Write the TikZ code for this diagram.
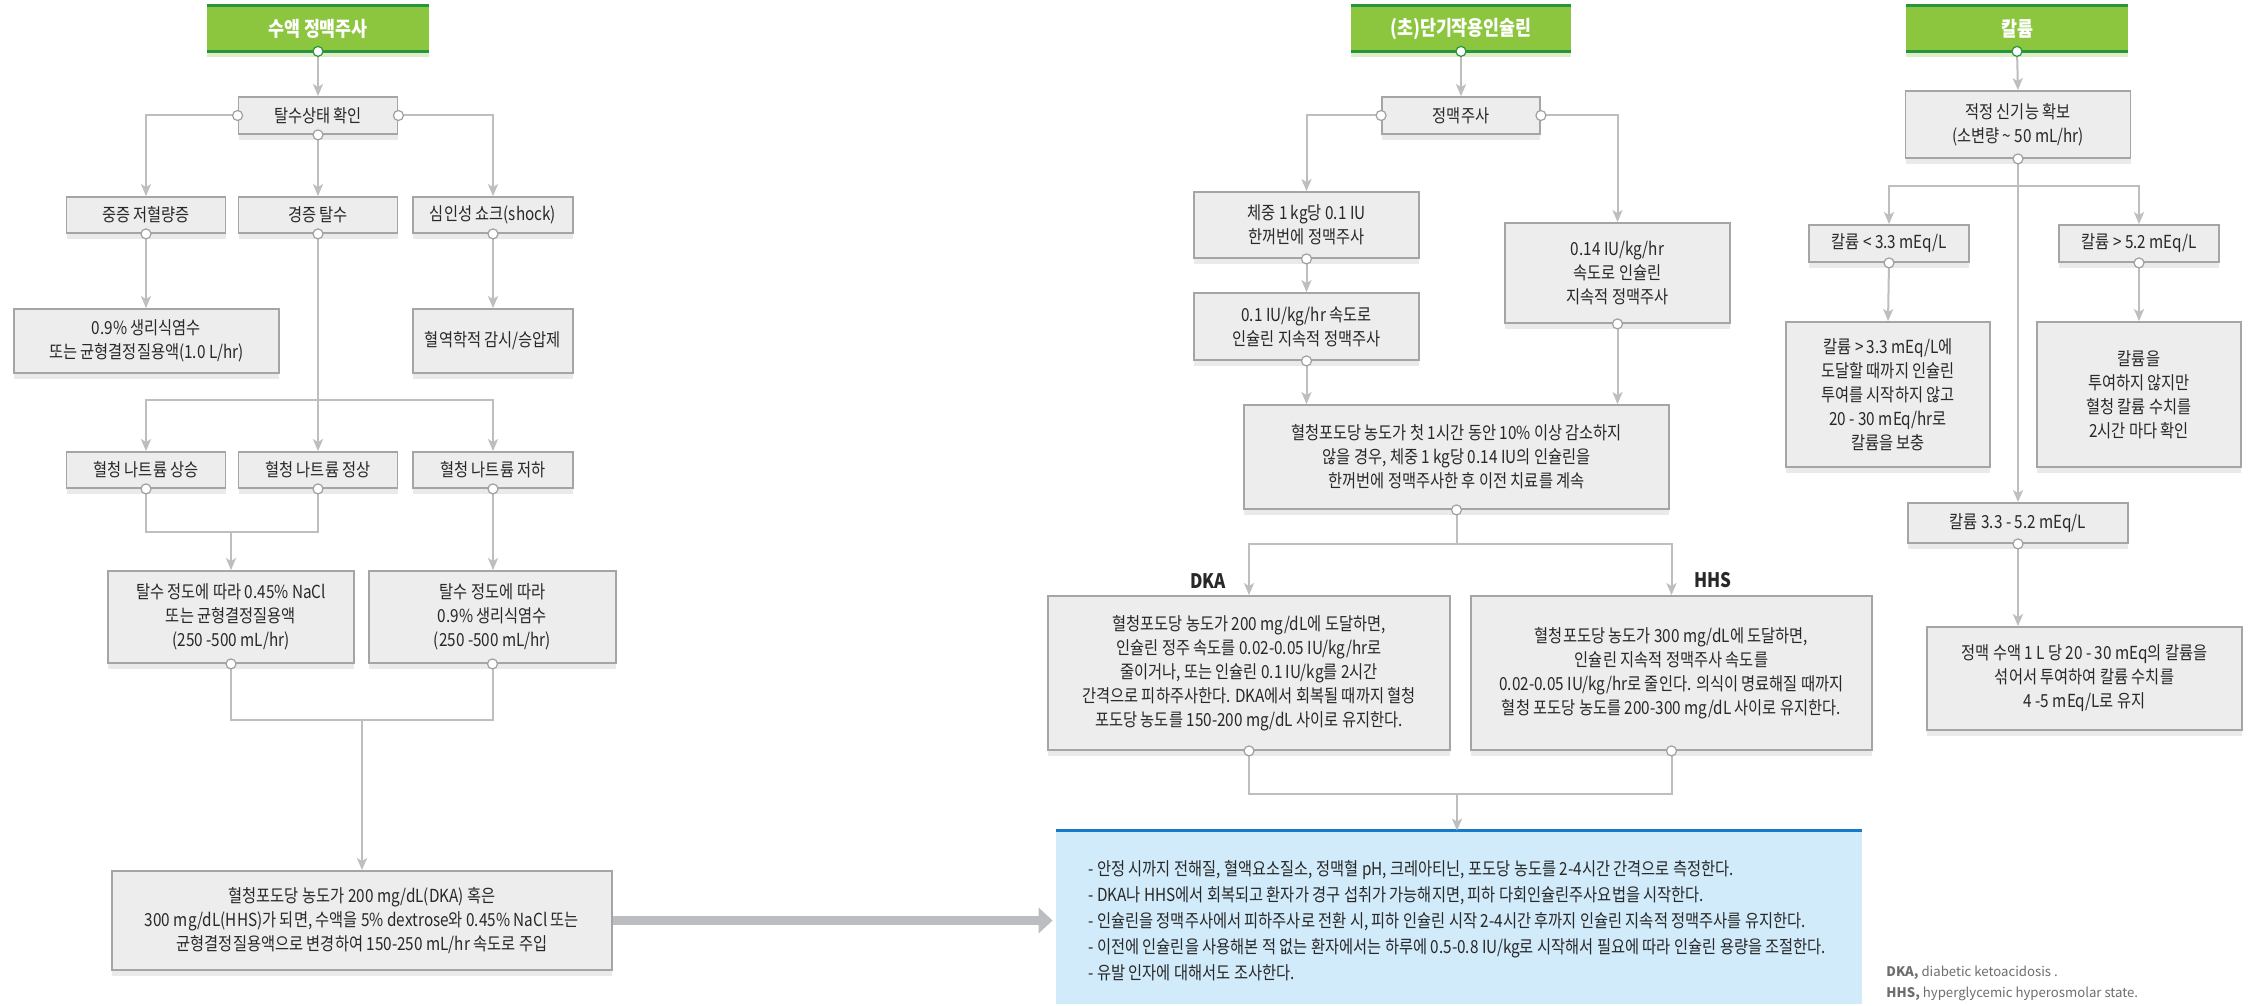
\documentclass[tikz,border=0pt]{standalone}
\usepackage{fontspec}
\setmainfont[FakeStretch=0.85]{Noto Sans CJK KR}
\newfontfamily\plainfont{Noto Sans CJK KR}
\usetikzlibrary{arrows.meta,shadows}

\definecolor{ink}{RGB}{40,40,40}
\definecolor{boxfill}{RGB}{237,237,237}
\definecolor{boxline}{RGB}{165,165,165}
\definecolor{shade}{RGB}{234,234,234}
\definecolor{connc}{RGB}{190,190,190}
\definecolor{portc}{RGB}{160,160,160}
\definecolor{hgreen}{RGB}{140,198,63}
\definecolor{hdark}{RGB}{38,150,62}
\definecolor{hpale}{RGB}{222,236,202}
\definecolor{bigarrow}{RGB}{188,189,192}
\definecolor{bluefill}{RGB}{209,235,250}
\definecolor{blueline}{RGB}{22,122,200}
\definecolor{foot}{RGB}{110,110,110}

\tikzset{
  every node/.style={text=ink},
  base/.style={font=\fontsize{9pt}{12pt}\selectfont, align=center, inner sep=0pt},
  box/.style 2 args={base, draw=boxline, fill=boxfill, line width=0.9pt,
    minimum width=#1*0.5pt, minimum height=#2*0.5pt,
    drop shadow={shadow xshift=0pt, shadow yshift=-3pt, fill=shade, opacity=1}},
  head/.style 2 args={align=center, inner sep=0pt, fill=hgreen, text=white,
    font=\bfseries\fontsize{10.2pt}{12pt}\selectfont,
    minimum width=#1*0.5pt, minimum height=#2*0.5pt,
    drop shadow={shadow xshift=0pt, shadow yshift=-3pt, fill=hpale, opacity=1}},
  hline/.style={draw=hdark, line width=1.4pt},
  conn/.style={draw=connc, line width=1pt, -{Stealth[length=6pt,width=5pt,inset=1.5pt]}},
  connl/.style={draw=connc, line width=1pt},
  port/.style={circle, draw=portc, fill=white, line width=0.6pt, minimum size=5pt, inner sep=0pt},
  hport/.style={port, draw=hdark},
  tag/.style={font=\bfseries\fontsize{10pt}{11pt}\selectfont, inner sep=0pt},
}

\begin{document}
\begin{tikzpicture}[x=0.5pt,y=-0.5pt]
\fill[white] (0,0) rectangle (2260,1006);
\path[use as bounding box] (0,0) rectangle (2260,1006);

% ---------- 수액 정맥주사 ----------
\node[head={222}{45}] (h1) at (318,28.5) {수액 정맥주사};
\node[box={159}{37}] (tal) at (318,115.5) {탈수상태 확인};
\node[box={159}{36}] (sev) at (146,215) {중증 저혈량증};
\node[box={159}{36}] (mild) at (318,215) {경증 탈수};
\node[box={160}{36}] (shock) at (493,215) {심인성 쇼크(shock)};
\node[box={265}{64}] (ns) at (146.5,341) {0.9\% 생리식염수\\또는 균형결정질용액(1.0 L/hr)};
\node[box={160}{64}] (hemo) at (493,341) {혈역학적 감시/승압제};
\coordinate (j1) at (318,400);
\node[box={159}{36}] (na1) at (146,470) {혈청 나트륨 상승};
\node[box={159}{36}] (na2) at (318,470) {혈청 나트륨 정상};
\node[box={160}{36}] (na3) at (493,470) {혈청 나트륨 저하};
\coordinate (j2) at (231,532);
\node[box={246}{92}] (half) at (231,617) {탈수 정도에 따라 0.45\% NaCl\\또는 균형결정질용액\\(250 -500 mL/hr)};
\node[box={247}{92}] (ns2) at (492.5,617) {탈수 정도에 따라\\0.9\% 생리식염수\\(250 -500 mL/hr)};
\coordinate (j3) at (362,720);
\node[box={500}{99}] (fin) at (362,920.5) {혈청포도당 농도가 200 mg/dL(DKA) 혹은\\300 mg/dL(HHS)가 되면, 수액을 5\% dextrose와 0.45\% NaCl 또는\\균형결정질용액으로 변경하여 150-250 mL/hr 속도로 주입};

% ---------- (초)단기작용인슐린 ----------
\node[head={220}{45}] (h2) at (1461,28.5) {(초)단기작용인슐린};
\node[box={158}{37}] (iv) at (1461,115.5) {정맥주사};
\node[box={225}{66}] (bolus) at (1306.5,225) {체중 1 kg당 0.1 IU\\한꺼번에 정맥주사};
\node[box={225}{67}] (cont) at (1306.5,326.5) {0.1 IU/kg/hr 속도로\\인슐린 지속적 정맥주사};
\node[box={225}{100}] (c014) at (1617.5,273) {0.14 IU/kg/hr\\속도로 인슐린\\지속적 정맥주사};
\node[box={425}{104}] (check) at (1456.5,457) {혈청포도당 농도가 첫 1시간 동안 10\% 이상 감소하지\\않을 경우, 체중 1 kg당 0.14 IU의 인슐린을\\한꺼번에 정맥주사한 후 이전 치료를 계속};
\coordinate (j4) at (1456.5,544);
\node[tag] (tdka) at (1208,581) {DKA};
\node[tag] (thhs) at (1713,580) {HHS};
\node[box={402}{154}] (dka) at (1249,673) {혈청포도당 농도가 200 mg/dL에 도달하면,\\인슐린 정주 속도를 0.02-0.05 IU/kg/hr로\\줄이거나, 또는 인슐린 0.1 IU/kg를 2시간\\간격으로 피하주사한다. DKA에서 회복될 때까지 혈청\\포도당 농도를 150-200 mg/dL 사이로 유지한다.};
\node[box={401}{154}] (hhs) at (1671.5,673) {혈청포도당 농도가 300 mg/dL에 도달하면,\\인슐린 지속적 정맥주사 속도를\\0.02-0.05 IU/kg/hr로 줄인다. 의식이 명료해질 때까지\\혈청 포도당 농도를 200-300 mg/dL 사이로 유지한다.};
\coordinate (j5) at (1457,794);
\node[fill=bluefill, inner sep=0pt, minimum width=806*0.5pt, minimum height=173*0.5pt] (blue) at (1459,917.5) {};
\draw[draw=blueline, line width=1.5pt] (blue.north west) -- (blue.north east);
\node[base, align=left, anchor=west, font=\fontsize{9pt}{13pt}\selectfont] (notes) at (1088,921)
 {- 안정 시까지 전해질, 혈액요소질소, 정맥혈 pH, 크레아티닌, 포도당 농도를 2-4시간 간격으로 측정한다.\\
  - DKA나 HHS에서 회복되고 환자가 경구 섭취가 가능해지면, 피하 다회인슐린주사요법을 시작한다.\\
  - 인슐린을 정맥주사에서 피하주사로 전환 시, 피하 인슐린 시작 2-4시간 후까지 인슐린 지속적 정맥주사를 유지한다.\\
  - 이전에 인슐린을 사용해본 적 없는 환자에서는 하루에 0.5-0.8 IU/kg로 시작해서 필요에 따라 인슐린 용량을 조절한다.\\
  - 유발 인자에 대해서도 조사한다.};

% ---------- 칼륨 ----------
\node[head={222}{45}] (h3) at (2017,28.5) {칼륨};
\node[box={225}{67}] (renal) at (2018,124.5) {적정 신기능 확보\\(소변량 \textasciitilde{} 50 mL/hr)};
\coordinate (j6) at (2018,186);
\node[box={160}{37}] (low) at (1889,243.5) {칼륨 < 3.3 mEq/L};
\node[box={160}{37}] (high) at (2139,243.5) {칼륨 > 5.2 mEq/L};
\node[box={204}{145}] (low2) at (1888,394.5) {칼륨 > 3.3 mEq/L에\\도달할 때까지 인슐린\\투여를 시작하지 않고\\20 - 30 mEq/hr로\\칼륨을 보충};
\node[box={204}{145}] (high2) at (2139,394.5) {칼륨을\\투여하지 않지만\\혈청 칼륨 수치를\\2시간 마다 확인};
\node[box={220}{40}] (mid) at (2018,523) {칼륨 3.3 - 5.2 mEq/L};
\node[box={315}{103}] (k3) at (2084.5,678.5) {정맥 수액 1 L 당 20 - 30 mEq의 칼륨을\\섞어서 투여하여 칼륨 수치를\\4 -5 mEq/L로 유지};

% header rules
\foreach \h in {h1,h2,h3}{
  \draw[hline] (\h.north west) -- (\h.north east);
  \draw[hline] (\h.south west) -- (\h.south east);
}

% ---------- connectors ----------
\draw[conn] (h1.south) -- (tal.north);
\draw[conn] (tal.west) -| (sev.north);
\draw[conn] (tal.south) -- (mild.north);
\draw[conn] (tal.east) -| (shock.north);
\draw[conn] (sev.south) -- (sev.south |- ns.north);
\draw[conn] (shock.south) -- (hemo.north);
\draw[connl] (mild.south) -- (j1);
\draw[conn] (j1) -- (na2.north);
\draw[conn] (j1) -| (na1.north);
\draw[conn] (j1) -| (na3.north);
\draw[connl] (na1.south) |- (j2);
\draw[connl] (na2.south) |- (j2);
\draw[conn] (j2) -- (half.north);
\draw[conn] (na3.south) -- (na3.south |- ns2.north);
\draw[connl] (half.south) |- (j3);
\draw[connl] (ns2.south) |- (j3);
\draw[conn] (j3) -- (fin.north);
\draw[draw=bigarrow, line width=4.5pt, -{Triangle[length=7pt,width=12.5pt]}, shorten >=1.5pt]
  (fin.east) -- (fin.east -| blue.west);

\draw[conn] (h2.south) -- (iv.north);
\draw[conn] (iv.west) -| (bolus.north);
\draw[conn] (iv.east) -| (c014.north);
\draw[conn] (bolus.south) -- (cont.north);
\draw[conn] (cont.south) -- (cont.south |- check.north);
\draw[conn] (c014.south) -- (c014.south |- check.north);
\draw[connl] (check.south) -- (j4);
\draw[conn] (j4) -| (dka.north);
\draw[conn] (j4) -| (hhs.north);
\draw[connl] (dka.south) |- (j5);
\draw[connl] (hhs.south) |- (j5);
\draw[conn] (j5) -- (j5 |- blue.north);

\draw[conn] (h3.south) -- (renal.north);
\draw[conn] (renal.south) -- (mid.north);
\draw[conn] (j6) -| (low.north);
\draw[conn] (j6) -| (high.north);
\draw[conn] (low.south) -- (low2.north);
\draw[conn] (high.south) -- (high2.north);
\draw[conn] (mid.south) -- (mid.south |- k3.north);

% ---------- ports ----------
\foreach \p in {h1.south,h2.south,h3.south}{\node[hport] at (\p) {};}
\foreach \p in {tal.west,tal.east,tal.south,sev.south,mild.south,shock.south,
  na1.south,na2.south,na3.south,half.south,ns2.south,
  iv.west,iv.east,bolus.south,cont.south,c014.south,check.south,dka.south,hhs.south,
  renal.south,low.south,high.south,mid.south}{\node[port] at (\p) {};}

% ---------- footnotes ----------
\node[anchor=west, inner sep=0pt, text=foot, font=\plainfont\fontsize{6.6pt}{7pt}\selectfont] (fn1) at (1886,973) {\textbf{DKA,} diabetic ketoacidosis .};
\node[anchor=west, inner sep=0pt, text=foot, font=\plainfont\fontsize{6.6pt}{7pt}\selectfont] (fn2) at (1886,994) {\textbf{HHS,} hyperglycemic hyperosmolar state.};
\end{tikzpicture}
\end{document}
